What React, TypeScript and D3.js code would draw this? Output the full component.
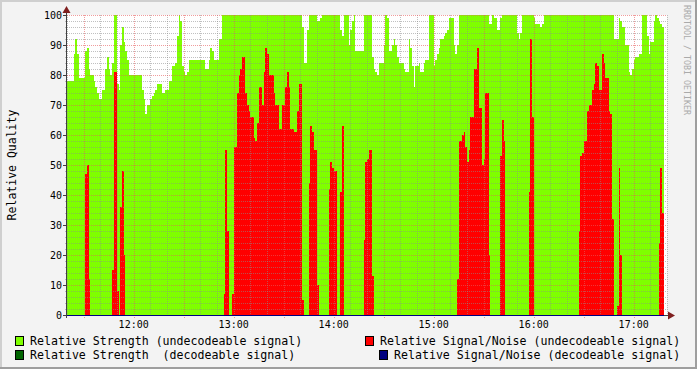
import React from "react";
import * as d3 from "d3";

// Per-minute samples starting 11:20 (one value per minute)
const strengthUndecodeable: number[] = [
  78, 78, 78, 78, 87, 92, 87, 79, 79, 79,
  79, 88, 89, 82, 80, 80, 78, 76, 74, 72,
  72, 75, 75, 82, 86, 82, 80, 84, 100, 100,
  77, 75, 90, 96, 91, 88, 85, 80, 80, 80,
  80, 80, 80, 80, 80, 75, 72, 67, 70, 70,
  72, 73, 74, 75, 77, 77, 77, 74, 74, 75,
  75, 78, 78, 83, 83, 84, 93, 100, 98, 83,
  81, 80, 81, 85, 85, 85, 85, 85, 85, 85,
  85, 85, 85, 82, 82, 85, 89, 88, 85, 85,
  85, 92, 92, 100, 100, 100, 100, 100, 100, 100,
  100, 100, 100, 100, 100, 100, 100, 100, 100, 100,
  100, 100, 100, 100, 100, 100, 100, 100, 100, 100,
  100, 100, 100, 100, 100, 100, 100, 100, 100, 100,
  100, 100, 100, 100, 100, 100, 100, 100, 100, 100,
  100, 96, 84, 84, 95, 100, 100, 100, 100, 100,
  98, 98, 99, 100, 100, 100, 100, 100, 100, 100,
  100, 100, 100, 100, 95, 93, 100, 100, 100, 90,
  95, 98, 100, 88, 88, 88, 88, 88, 100, 100,
  100, 100, 100, 86, 82, 81, 80, 84, 84, 84,
  90, 100, 99, 88, 88, 90, 92, 90, 86, 84,
  84, 84, 82, 81, 81, 92, 89, 83, 76, 83,
  83, 84, 81, 81, 84, 85, 85, 100, 100, 100,
  83, 85, 87, 89, 92, 92, 93, 94, 95, 99,
  99, 99, 90, 87, 90, 100, 100, 100, 100, 100,
  100, 100, 100, 100, 100, 100, 100, 100, 100, 100,
  100, 100, 100, 97, 97, 100, 99, 99, 95, 95,
  99, 100, 100, 100, 100, 100, 100, 100, 100, 100,
  94, 92, 94, 100, 100, 100, 100, 100, 100, 100,
  99, 97, 97, 97, 96, 97, 100, 100, 100, 100,
  100, 100, 100, 100, 100, 100, 100, 100, 100, 100,
  100, 100, 100, 100, 100, 100, 100, 100, 100, 100,
  100, 100, 100, 100, 100, 100, 100, 100, 100, 100,
  100, 100, 100, 100, 100, 100, 100, 100, 92, 92,
  92, 99, 98, 96, 96, 90, 90, 81, 80, 82,
  85, 86, 86, 87, 87, 100, 100, 100, 93, 87,
  91, 91, 98, 100, 99, 98, 97, 96,
];

const snrUndecodeable: number[] = [
  0, 0, 0, 0, 0, 0, 0, 0, 0, 0,
  0, 47, 50, 12, 0, 0, 0, 0, 0, 0,
  0, 0, 0, 0, 0, 0, 0, 15, 81, 81,
  8, 0, 36, 48, 20, 0, 0, 0, 0, 0,
  0, 0, 0, 0, 0, 0, 0, 0, 0, 0,
  0, 0, 0, 0, 0, 0, 0, 0, 0, 0,
  0, 0, 0, 0, 0, 0, 0, 0, 0, 0,
  0, 0, 0, 0, 0, 0, 0, 0, 0, 0,
  0, 0, 0, 0, 0, 0, 0, 0, 0, 0,
  0, 0, 0, 0, 7, 55, 28, 0, 0, 7,
  56, 56, 74, 80, 82, 86, 86, 74, 70, 68,
  66, 66, 59, 58, 64, 76, 76, 70, 81, 89,
  87, 80, 80, 80, 74, 70, 70, 62, 62, 70,
  70, 76, 81, 76, 62, 62, 61, 61, 68, 77,
  77, 5, 0, 0, 0, 44, 63, 61, 55, 55,
  10, 0, 0, 0, 0, 0, 0, 42, 51, 49,
  48, 48, 0, 0, 41, 63, 0, 0, 0, 0,
  0, 0, 0, 0, 0, 0, 0, 0, 25, 51,
  52, 55, 55, 13, 0, 0, 0, 0, 0, 0,
  0, 0, 0, 0, 0, 0, 0, 0, 0, 0,
  0, 0, 0, 0, 0, 0, 0, 0, 0, 0,
  0, 0, 0, 0, 0, 0, 0, 0, 0, 0,
  0, 0, 0, 0, 0, 0, 0, 0, 0, 0,
  0, 0, 0, 0, 12, 58, 58, 60, 61, 56,
  51, 55, 66, 66, 82, 82, 89, 69, 69, 50,
  52, 74, 74, 20, 0, 0, 0, 0, 0, 0,
  53, 65, 58, 0, 0, 0, 0, 0, 0, 0,
  0, 0, 0, 0, 0, 0, 0, 41, 92, 66,
  0, 0, 0, 0, 0, 0, 0, 0, 0, 0,
  0, 0, 0, 0, 0, 0, 0, 0, 0, 0,
  0, 0, 0, 0, 0, 0, 0, 28, 53, 54,
  58, 58, 68, 70, 70, 75, 77, 84, 83, 75,
  75, 87, 84, 79, 79, 68, 67, 32, 0, 0,
  3, 49, 20, 0, 0, 0, 0, 0, 0, 0,
  0, 0, 0, 0, 0, 0, 0, 0, 0, 0,
  0, 0, 0, 0, 0, 24, 49, 34,
];

const yTicks: number[] = [0, 10, 20, 30, 40, 50, 60, 70, 80, 90, 100];
const xTickLabels: string[] = ["12:00", "13:00", "14:00", "15:00", "16:00", "17:00"];

const legendItems = [
  { label: "Relative Strength (undecodeable signal)", color: "#7FFF00" },
  { label: "Relative Signal/Noise (undecodeable signal)", color: "#FF0000" },
  { label: "Relative Strength  (decodeable signal)", color: "#006400" },
  { label: "Relative Signal/Noise (decodeable signal)", color: "#000080" },
];

const W = 697;
const H = 369;
const L = 67;
const R = 667;
const T = 15;
const B = 315;
const FONT = "'DejaVu Sans Mono', monospace";

const t0 = new Date(2020, 0, 1, 11, 20);
const t1 = new Date(2020, 0, 1, 17, 20);
const minute = (i: number) => new Date(t0.getTime() + i * 60000);

export default function App() {
  const x = d3.scaleTime().domain([t0, t1]).range([L, R]);
  const y = d3.scaleLinear().domain([0, 100]).range([B, T]);

  const toPts = (arr: number[]) => {
    const pts = arr.map((v, i) => ({ t: minute(i), v }));
    pts.push({ t: minute(arr.length), v: arr[arr.length - 1] });
    return pts;
  };
  const area = d3
    .area<{ t: Date; v: number }>()
    .x((d) => x(d.t))
    .y0(y(0))
    .y1((d) => y(d.v))
    .curve(d3.curveStepAfter);

  const greenPath = area(toPts(strengthUndecodeable)) || "";
  const redPath = area(toPts(snrUndecodeable)) || "";

  const minorX = x.ticks(d3.timeMinute.every(10) as any);
  const majorX = x.ticks(d3.timeMinute.every(30) as any);
  const hourX = x.ticks(d3.timeHour.every(1) as any);
  const majorSet = new Set(majorX.map((d) => d.getTime()));
  const minorY = d3.range(0, 101, 2);
  const fmt = d3.timeFormat("%H:%M");

  const px = (v: number) => Math.round(v) + 0.5;
  const dataEnd = x(minute(strengthUndecodeable.length));

  return (
    <svg
      width={W}
      height={H}
      style={{ position: "absolute", left: 0, top: 0, display: "block" }}
    >
      <rect x={0} y={0} width={W} height={H} fill="#F3F3F3" />
      <rect x={0} y={0} width={W} height={2} fill="#CFCFCF" />
      <rect x={0} y={0} width={2} height={H} fill="#CFCFCF" />
      <rect x={W - 2} y={0} width={2} height={H} fill="#9E9E9E" />
      <rect x={0} y={H - 2} width={W} height={2} fill="#9E9E9E" />

      <rect x={L} y={T} width={R - L} height={B - T} fill="#FFFFFF" />

      <path d={greenPath} fill="#7FFF00" shapeRendering="crispEdges" />
      <path d={redPath} fill="#FF0000" shapeRendering="crispEdges" />

      {/* minor grid */}
      <g stroke="rgba(140,140,140,0.55)" strokeWidth={1} strokeDasharray="1,1" shapeRendering="crispEdges">
        {minorX
          .filter((d) => !majorSet.has(d.getTime()))
          .map((d, i) => (
            <line key={"mx" + i} x1={px(x(d))} x2={px(x(d))} y1={T} y2={B + 2} />
          ))}
        {minorY
          .filter((v) => v % 10 !== 0)
          .map((v, i) => (
            <line key={"my" + i} x1={L - 2} x2={R} y1={px(y(v))} y2={px(y(v))} />
          ))}
      </g>
      {/* major grid */}
      <g stroke="rgba(230,90,90,0.6)" strokeWidth={1} strokeDasharray="1,1" shapeRendering="crispEdges">
        {majorX.map((d, i) => (
          <line key={"Mx" + i} x1={px(x(d))} x2={px(x(d))} y1={T} y2={B + 3} />
        ))}
        {yTicks
          .filter((v) => v !== 0)
          .map((v, i) => (
            <line key={"My" + i} x1={L} x2={R} y1={px(y(v))} y2={px(y(v))} />
          ))}
      </g>

      {/* axes */}
      <g shapeRendering="crispEdges">
        <line x1={L - 3} x2={R + 4} y1={B + 0.5} y2={B + 0.5} stroke="#404040" />
        <line x1={L} x2={dataEnd} y1={B + 0.5} y2={B + 0.5} stroke="#000080" />
        <line x1={L - 0.5} x2={L - 0.5} y1={T - 5} y2={B + 3} stroke="#404040" />
        {yTicks.map((v, i) => (
          <line key={"yt" + i} x1={L - 4} x2={L} y1={px(y(v))} y2={px(y(v))} stroke="#404040" />
        ))}
      </g>
      <path d={`M${R + 1},${B - 3.5} L${R + 8},${B + 0.5} L${R + 1},${B + 4.5} Z`} fill="#7F1F1F" />
      <path d={`M${L - 4.5},${T - 2} L${L - 0.5},${T - 9} L${L + 3.5},${T - 2} Z`} fill="#7F1F1F" />

      {/* tick labels */}
      <g fontFamily={FONT} fontSize={10} fill="#000">
        {yTicks.map((v, i) => (
          <text key={"yl" + i} x={L - 5} y={y(v)} textAnchor="end" dominantBaseline="central">
            {String(v)}
          </text>
        ))}
        {hourX.map((d, i) => (
          <text key={"xl" + i} x={x(d)} y={328} textAnchor="middle">
            {xTickLabels.includes(fmt(d)) ? fmt(d) : fmt(d)}
          </text>
        ))}
      </g>

      <text
        x={12}
        y={165}
        transform="rotate(-90 12 165)"
        textAnchor="middle"
        dominantBaseline="central"
        fontFamily={FONT}
        fontSize={11.5}
        fill="#000"
      >
        Relative Quality
      </text>

      <text
        x={687}
        y={60}
        transform="rotate(90 687 60)"
        textAnchor="middle"
        dominantBaseline="central"
        fontFamily={FONT}
        fontSize={8.3}
        fill="#AAAAAA"
      >
        RRDTOOL / TOBI OETIKER
      </text>

      {/* legend */}
      <g fontFamily={FONT} fontSize={11.6} fill="#000">
        {[
          { item: legendItems[0], bx: 15, tx: 30, y: 341 },
          { item: legendItems[1], bx: 365, tx: 380, y: 341 },
          { item: legendItems[2], bx: 15, tx: 30, y: 355 },
          { item: legendItems[3], bx: 379, tx: 394, y: 355 },
        ].map((l, i) => (
          <g key={"lg" + i}>
            <rect x={l.bx + 0.5} y={l.y - 4.5} width={8} height={9} fill={l.item.color} stroke="#000" strokeWidth={1} shapeRendering="crispEdges" />
            <text x={l.tx} y={l.y} dominantBaseline="central" xmlSpace="preserve" style={{ whiteSpace: "pre" }}>
              {l.item.label}
            </text>
          </g>
        ))}
      </g>
    </svg>
  );
}
